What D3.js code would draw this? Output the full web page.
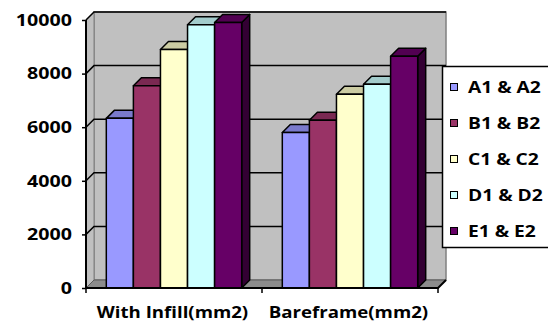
<!DOCTYPE html>
<html>
<head>
<meta charset="utf-8">
<script src="https://cdn.jsdelivr.net/npm/d3@7"></script>
<style>
  html, body { margin: 0; padding: 0; background: #fff; }
  svg { display: block; }
  text { font-family: "Open Sans", "Noto Sans", sans-serif; font-weight: 700; fill: #000; }
</style>
</head>
<body>
<svg id="chart" width="548" height="324"></svg>
<script>
// Cross-sectional areas per connection pair, two frame types
const categories = ["With Infill(mm2)", "Bareframe(mm2)"];
const seriesNames = ["A1 & A2", "B1 & B2", "C1 & C2", "D1 & D2", "E1 & E2"];
const seriesColors = ["#9999FF", "#993366", "#FFFFCC", "#CCFFFF", "#660066"];
const withInfill = [6330, 7550, 8900, 9820, 9910];
const bareframe = [5800, 6260, 7230, 7600, 8650];
const yTicks = [0, 2000, 4000, 6000, 8000, 10000];

const values = [withInfill, bareframe];

(function () {
  const svg = d3.select("#chart");

  // plot geometry (front plane) and 3-D depth offset
  const plotLeft = 86, plotRight = 438, plotBottom = 288, plotTop = 20;
  const DX = 8, DY = -8;

  const y = d3.scaleLinear().domain([0, 10000]).range([plotBottom, plotTop]);
  const x0 = d3.scaleBand().domain(categories).range([plotLeft, plotRight]).padding(0);
  const x1 = d3.scaleBand().domain(seriesNames).range([0, x0.bandwidth()])
    .paddingInner(0).paddingOuter(0.75);

  const shade = (c, k) => {
    const r = d3.rgb(c);
    return d3.rgb(r.r * k, r.g * k, r.b * k).formatHex();
  };
  const poly = pts => "M" + pts.map(p => p.join(",")).join("L") + "Z";

  // stretch text horizontally to its intended width
  function stretch(sel, k) {
    sel.each(function () {
      const w = this.getComputedTextLength();
      d3.select(this).attr("textLength", w * k).attr("lengthAdjust", "spacingAndGlyphs");
    });
  }

  // walls and floor
  const walls = svg.append("g");
  walls.append("rect")
    .attr("x", plotLeft + DX).attr("y", plotTop + DY)
    .attr("width", plotRight - plotLeft).attr("height", plotBottom - plotTop)
    .attr("fill", "#c0c0c0").attr("stroke", "#808080").attr("stroke-width", 1.5);
  walls.append("path")
    .attr("d", poly([[plotLeft, plotBottom], [plotLeft, plotTop], [plotLeft + DX, plotTop + DY], [plotLeft + DX, plotBottom + DY]]))
    .attr("fill", "#c0c0c0").attr("stroke", "#808080").attr("stroke-width", 1);
  walls.append("path")
    .attr("d", poly([[plotLeft, plotBottom], [plotRight, plotBottom], [plotRight + DX, plotBottom + DY], [plotLeft + DX, plotBottom + DY]]))
    .attr("fill", "#8c8c8c").attr("stroke", "#5a5a5a").attr("stroke-width", 1);

  // gridlines: along the side wall and across the back wall
  const grid = svg.append("g").attr("stroke", "#000").attr("stroke-width", 1.5).attr("fill", "none");
  grid.selectAll("path.grid")
    .data(yTicks.filter(v => v > 0))
    .join("path")
    .attr("class", "grid")
    .attr("d", v => `M${plotLeft},${y(v)}L${plotLeft + DX},${y(v) + DY}L${plotRight + DX},${y(v) + DY}`);

  // bars drawn as boxes: front, top and right side faces
  const bars = [];
  categories.forEach((c, ci) => {
    seriesNames.forEach((s, si) => {
      bars.push({ cat: c, name: s, value: values[ci][si], color: seriesColors[si] });
    });
  });

  const barG = svg.append("g").attr("stroke", "#000").attr("stroke-width", 1.5).attr("stroke-linejoin", "round");
  const box = barG.selectAll("g.bar").data(bars).join("g").attr("class", "bar");
  box.each(function (d) {
    const g = d3.select(this);
    const xa = x0(d.cat) + x1(d.name);
    const xb = xa + x1.bandwidth();
    const yt = y(d.value);
    g.append("path")
      .attr("d", poly([[xb, yt], [xb + DX, yt + DY], [xb + DX, plotBottom + DY], [xb, plotBottom]]))
      .attr("fill", shade(d.color, 0.5));
    g.append("path")
      .attr("d", poly([[xa, yt], [xb, yt], [xb + DX, yt + DY], [xa + DX, yt + DY]]))
      .attr("fill", shade(d.color, 0.8));
    g.append("rect")
      .attr("x", xa).attr("y", yt)
      .attr("width", x1.bandwidth()).attr("height", plotBottom - yt)
      .attr("fill", d.color);
  });

  // value axis
  const yAxis = svg.append("g")
    .attr("transform", `translate(${plotLeft},0)`)
    .call(d3.axisLeft(y).tickValues(yTicks).tickFormat(d3.format("d")).tickSize(4).tickPadding(10));
  yAxis.attr("font-family", null).attr("font-size", null);
  yAxis.select(".domain").attr("stroke", "#000").attr("stroke-width", 2)
    .attr("d", `M0,${plotBottom}V${plotTop}`);
  yAxis.selectAll(".tick line").attr("stroke", "#000").attr("stroke-width", 1.5);
  yAxis.selectAll(".tick text")
    .style("font-size", "16.8px")
    .call(stretch, 1.17);

  // category axis: baseline, boundary ticks, floor edge, labels
  const xAxis = svg.append("g").attr("stroke", "#000").attr("stroke-width", 2).attr("fill", "none");
  xAxis.append("path").attr("d", `M${plotLeft},${plotBottom}H${plotRight}L${plotRight + DX},${plotBottom + DY}`);
  const bounds = categories.map(c => x0(c)).concat([plotRight]);
  xAxis.selectAll("line.tick").data(bounds).join("line")
    .attr("class", "tick").attr("stroke-width", 1.5)
    .attr("x1", d => d).attr("x2", d => d)
    .attr("y1", plotBottom).attr("y2", plotBottom + 5);

  svg.append("g").selectAll("text.cat").data(categories).join("text")
    .attr("class", "cat")
    .attr("x", d => x0(d) + x0.bandwidth() / 2 - 1.5)
    .attr("y", 318)
    .attr("text-anchor", "middle")
    .style("font-size", "16.8px")
    .text(d => d)
    .call(stretch, 1.11);

  // legend
  const legend = svg.append("g");
  legend.append("rect")
    .attr("x", 442.5).attr("y", 66.5).attr("width", 110).attr("height", 181)
    .attr("fill", "#fff").attr("stroke", "#000").attr("stroke-width", 1.5);
  const item = legend.selectAll("g.item").data(seriesNames).join("g")
    .attr("class", "item")
    .attr("transform", (d, i) => `translate(0,${87 + i * 36})`);
  item.append("rect")
    .attr("x", 450.5).attr("y", -3.5).attr("width", 7).attr("height", 7)
    .attr("fill", (d, i) => seriesColors[i]).attr("stroke", "#000").attr("stroke-width", 1);
  item.append("text")
    .attr("x", 468).attr("y", 0).attr("dy", "0.36em")
    .style("font-size", "16px")
    .text(d => d)
    .call(stretch, 1.2);
})();
</script>
</body>
</html>
